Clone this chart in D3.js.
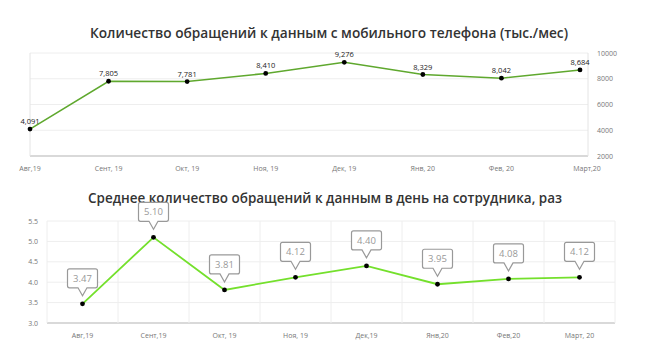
<!DOCTYPE html>
<html>
<head>
<meta charset="utf-8">
<script src="https://cdn.jsdelivr.net/npm/d3@7"></script>
<style>
    body { margin: 0; background: #fff; }
    svg { display: block; font-family: "Open Sans", sans-serif; }
</style>
</head>
<body>
<script>
// data
var months = ["Авг,19", "Сент, 19", "Окт, 19", "Ноя, 19", "Дек, 19", "Янв, 20", "Фев, 20", "Март,20"];
var monthsBottom = ["Авг,19", "Сент,19", "Окт, 19", "Ноя, 19", "Дек,19", "Янв,20", "Фев,20", "Март, 20"];
var requests = [4091, 7805, 7781, 8410, 9276, 8329, 8042, 8684];
var requestLabels = ["4,091", "7,805", "7,781", "8,410", "9,276", "8,329", "8,042", "8,684"];
var perEmployee = [3.47, 5.10, 3.81, 4.12, 4.40, 3.95, 4.08, 4.12];
var topTicks = [2000, 4000, 6000, 8000, 10000];
var bottomTicks = [3.0, 3.5, 4.0, 4.5, 5.0, 5.5];

var width = 650, height = 364;

var svg = d3.select("body").append("svg")
    .attr("width", width)
    .attr("height", height);

// ---------- top chart ----------
var top1 = { left: 30, right: 588, top: 53, bottom: 156 };

svg.append("text")
    .attr("x", 329)
    .attr("y", 38)
    .attr("text-anchor", "middle")
    .attr("font-size", 14.5)
    .attr("font-weight", 600)
    .attr("fill", "#333")
    .attr("textLength", 478)
    .attr("lengthAdjust", "spacingAndGlyphs")
    .text("Количество обращений к данным с мобильного телефона (тыс./мес)");

var x1 = d3.scalePoint()
    .domain(months)
    .range([top1.left, 580]);

var y1 = d3.scaleLinear()
    .domain([2000, 10000])
    .range([top1.bottom, top1.top]);

var g1 = svg.append("g");

// gridlines
g1.selectAll("line.grid")
    .data(topTicks)
    .join("line")
    .attr("x1", top1.left)
    .attr("x2", top1.right)
    .attr("y1", d => y1(d))
    .attr("y2", d => y1(d))
    .attr("stroke", d => d == 2000 ? "#ccc" : "#eee")
    .attr("stroke-width", d => d == 2000 ? 1.5 : 1);

[top1.left, top1.right].forEach(xx => {
    g1.append("line")
        .attr("x1", xx).attr("x2", xx)
        .attr("y1", top1.top).attr("y2", top1.bottom)
        .attr("stroke", "#e4e4e4");
});

// right axis labels
g1.selectAll("text.ytick")
    .data(topTicks)
    .join("text")
    .attr("x", 597)
    .attr("y", d => y1(d) + 2.5)
    .attr("font-size", 7)
    .attr("fill", "#777")
    .text(d => d);

// x labels
g1.selectAll("text.xtick")
    .data(months)
    .join("text")
    .attr("x", (d, i) => i == months.length - 1 ? 587 : x1(d))
    .attr("y", 171)
    .attr("text-anchor", "middle")
    .attr("font-size", 7)
    .attr("fill", "#777")
    .text(d => d);

// line
g1.append("path")
    .datum(requests)
    .attr("fill", "none")
    .attr("stroke", "#5fa82e")
    .attr("stroke-width", 1.6)
    .attr("d", d3.line()
        .x((d, i) => x1(months[i]))
        .y(d => y1(d)));

g1.selectAll("circle")
    .data(requests)
    .join("circle")
    .attr("cx", (d, i) => x1(months[i]))
    .attr("cy", d => y1(d))
    .attr("r", 2.4)
    .attr("fill", "#000");

g1.selectAll("text.val")
    .data(requests)
    .join("text")
    .attr("x", (d, i) => x1(months[i]))
    .attr("y", d => y1(d) - 5)
    .attr("text-anchor", "middle")
    .attr("font-size", 7.5)
    .attr("fill", "#222")
    .text((d, i) => requestLabels[i]);

// ---------- bottom chart ----------
var b = { left: 47, right: 615, top: 221, bottom: 323 };

svg.append("text")
    .attr("x", 325)
    .attr("y", 203)
    .attr("text-anchor", "middle")
    .attr("font-size", 14.5)
    .attr("font-weight", 600)
    .attr("fill", "#333")
    .attr("textLength", 474)
    .attr("lengthAdjust", "spacingAndGlyphs")
    .text("Среднее количество обращений к данным в день на сотрудника, раз");

var x2 = d3.scaleBand()
    .domain(monthsBottom)
    .range([b.left, b.right]);

var y2 = d3.scaleLinear()
    .domain([3.0, 5.5])
    .range([b.bottom, b.top]);

var g2 = svg.append("g");

// horizontal gridlines
g2.selectAll("line.hgrid")
    .data(bottomTicks)
    .join("line")
    .attr("x1", b.left)
    .attr("x2", b.right)
    .attr("y1", d => y2(d))
    .attr("y2", d => y2(d))
    .attr("stroke", d => d == 3.0 ? "#ccc" : "#eee")
    .attr("stroke-width", d => d == 3.0 ? 1.5 : 1);

// vertical gridlines at band edges
g2.selectAll("line.vgrid")
    .data(monthsBottom.concat([null]))
    .join("line")
    .attr("x1", (d, i) => d == null ? b.right : x2(d))
    .attr("x2", (d, i) => d == null ? b.right : x2(d))
    .attr("y1", b.top)
    .attr("y2", b.bottom)
    .attr("stroke", "#eee");

// left axis labels
g2.selectAll("text.ytick")
    .data(bottomTicks)
    .join("text")
    .attr("x", 38)
    .attr("y", d => y2(d) + 2.5)
    .attr("text-anchor", "end")
    .attr("font-size", 7)
    .attr("fill", "#777")
    .text(d => d.toFixed(1));

// x labels
g2.selectAll("text.xtick")
    .data(monthsBottom)
    .join("text")
    .attr("x", d => x2(d) + x2.bandwidth() / 2)
    .attr("y", 338)
    .attr("text-anchor", "middle")
    .attr("font-size", 7)
    .attr("fill", "#777")
    .text(d => d);

var cx2 = (d, i) => x2(monthsBottom[i]) + x2.bandwidth() / 2;

g2.append("path")
    .datum(perEmployee)
    .attr("fill", "none")
    .attr("stroke", "#74e02c")
    .attr("stroke-width", 1.8)
    .attr("d", d3.line()
        .x(cx2)
        .y(d => y2(d)));

g2.selectAll("circle")
    .data(perEmployee)
    .join("circle")
    .attr("cx", cx2)
    .attr("cy", d => y2(d))
    .attr("r", 2.4)
    .attr("fill", "#000");

// callouts
var bw = 30, bh = 19, gap = 8, tail = 8;
var callouts = g2.selectAll("g.callout")
    .data(perEmployee)
    .join("g")
    .attr("transform", (d, i) => `translate(${cx2(d, i)},${y2(d) - gap})`);

callouts.append("path")
    .attr("d", () => {
        var l = -bw / 2, r = bw / 2, bt = -tail, tp = -tail - bh, rr = 2;
        return `M0,0 L${-4.5},${bt} L${l + rr},${bt} Q${l},${bt} ${l},${bt - rr}` +
            ` L${l},${tp + rr} Q${l},${tp} ${l + rr},${tp} L${r - rr},${tp} Q${r},${tp} ${r},${tp + rr}` +
            ` L${r},${bt - rr} Q${r},${bt} ${r - rr},${bt} L4.5,${bt} Z`;
    })
    .attr("fill", "#fff")
    .attr("stroke", "#999")
    .attr("stroke-width", 1.2);

callouts.append("text")
    .attr("x", 0)
    .attr("y", -tail - bh / 2 + 3.3)
    .attr("text-anchor", "middle")
    .attr("font-size", 9.5)
    .attr("fill", "#999")
    .text(d => d.toFixed(2));
</script>
</body>
</html>
